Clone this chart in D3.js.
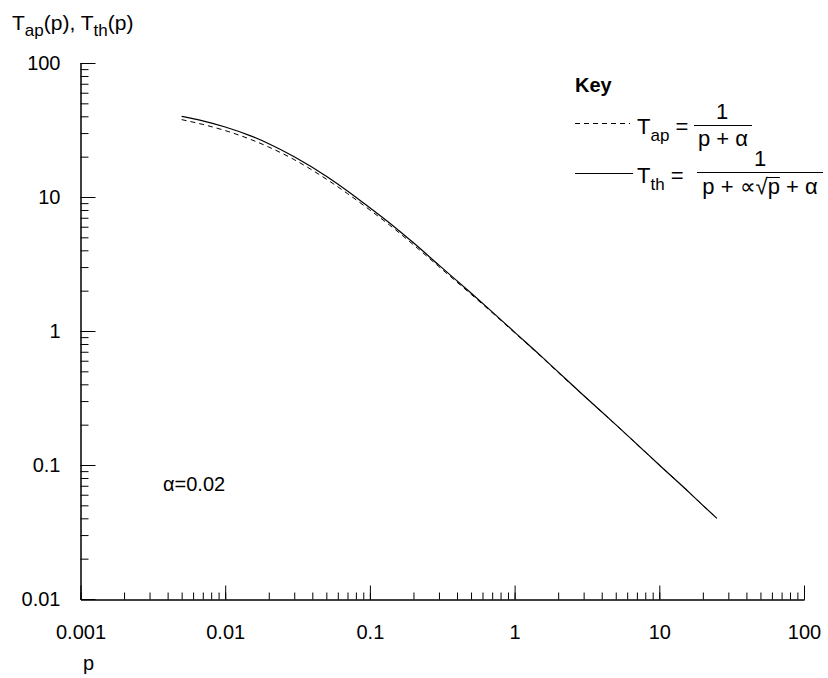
<!DOCTYPE html>
<html>
<head>
<meta charset="utf-8">
<style>
  body { margin: 0; background: #fff; }
  text { font-family: "Liberation Sans", Arial, sans-serif; fill: #000; }
  .axis path, .axis line { stroke: #000; stroke-width: 1; }
  .axis text { font-family: "Liberation Sans", Arial, sans-serif; font-size: 20px; fill: #000; }
</style>
<script src="https://d3js.org/d3.v7.min.js"></script>
</head>
<body>
<svg id="chart" width="828" height="678"></svg>
<script>
// values
var pValues   = [0.005, 0.007, 0.01, 0.015, 0.02, 0.03, 0.05, 0.07, 0.1, 0.15, 0.2, 0.3, 0.5, 0.7, 1, 1.5, 2, 3, 5, 7, 10, 15, 20, 25];
var tThValues = [40, 37, 33.3, 28.6, 25, 20, 14.3, 11.1, 8.3, 5.9, 4.55, 3.1, 1.92, 1.39, 0.98, 0.66, 0.495, 0.33, 0.2, 0.143, 0.1, 0.067, 0.05, 0.04];
var tApValues = [37.8, 34.8, 31.3, 26.9, 23.6, 19, 13.6, 10.6, 8.0, 5.7, 4.4, 3.02, 1.88, 1.37, 0.97, 0.655, 0.49, 0.33, 0.2, 0.143, 0.1, 0.067, 0.05, 0.04];

var xTicks = [0.001, 0.01, 0.1, 1, 10, 100];
var xTickLabels = ["0.001", "0.01", "0.1", "1", "10", "100"];
var yTicks = [0.01, 0.1, 1, 10, 100];
var yTickLabels = ["0.01", "0.1", "1", "10", "100"];

var svg = d3.select("#chart");

var x = d3.scaleLog().domain([0.001, 100]).range([80.5, 804]);
var y = d3.scaleLog().domain([0.01, 100]).range([599, 63]);

// minor ticks
svg.append("g").attr("class", "axis")
  .attr("transform", "translate(0,599.5)")
  .call(d3.axisBottom(x).tickValues(x.ticks()).tickSize(-7).tickSizeOuter(0).tickFormat(""));
svg.append("g").attr("class", "axis")
  .attr("transform", "translate(80.5,0)")
  .call(d3.axisLeft(y).tickValues(y.ticks()).tickSize(-8).tickSizeOuter(0).tickFormat(""));

// major ticks + labels
svg.append("g").attr("class", "axis")
  .attr("transform", "translate(0,599.5)")
  .call(d3.axisBottom(x).tickValues(xTicks).tickSize(-14).tickSizeOuter(0)
    .tickPadding(25).tickFormat(function(d, i) { return xTickLabels[i]; }));
svg.append("g").attr("class", "axis")
  .attr("transform", "translate(80.5,0)")
  .call(d3.axisLeft(y).tickValues(yTicks).tickSize(-15).tickSizeOuter(0)
    .tickPadding(20).tickFormat(function(d, i) { return yTickLabels[i]; }));

// axis titles
var title = svg.append("text").attr("x", 12).attr("y", 30).style("font-size", "21px");
title.append("tspan").text("T");
title.append("tspan").attr("dy", 6).style("font-size", "17px").text("ap");
title.append("tspan").attr("dy", -6).text("(p), T");
title.append("tspan").attr("dy", 6).style("font-size", "17px").text("th");
title.append("tspan").attr("dy", -6).text("(p)");

svg.append("text").attr("x", 83).attr("y", 670).style("font-size", "20px").text("p");

svg.append("text").attr("x", 163).attr("y", 491).style("font-size", "20px").text("α=0.02");

// curves
var line = d3.line()
  .x(function(d) { return x(d[0]); })
  .y(function(d) { return y(d[1]); })
  .curve(d3.curveMonotoneX);

svg.append("path")
  .datum(pValues.map(function(p, i) { return [p, tApValues[i]]; }))
  .attr("d", line)
  .attr("fill", "none").attr("stroke", "#000").attr("stroke-width", 1)
  .attr("stroke-dasharray", "5,4");

svg.append("path")
  .datum(pValues.map(function(p, i) { return [p, tThValues[i]]; }))
  .attr("d", line)
  .attr("fill", "none").attr("stroke", "#000").attr("stroke-width", 1.2);

// legend
var key = svg.append("g");
key.append("text").attr("x", 575).attr("y", 92).style("font-size", "20px").style("font-weight", "bold").text("Key");

key.append("line").attr("x1", 575).attr("x2", 630).attr("y1", 123.5).attr("y2", 123.5)
  .attr("stroke", "#000").attr("stroke-dasharray", "5,4");
key.append("line").attr("x1", 575).attr("x2", 633).attr("y1", 173.5).attr("y2", 173.5)
  .attr("stroke", "#000");

function lhs(yBase, sub, eq) {
  var t = key.append("text").attr("x", 637).attr("y", yBase).style("font-size", "22px");
  t.append("tspan").text("T");
  t.append("tspan").attr("dy", 7).style("font-size", "17px").text(sub);
  t.append("tspan").attr("dy", -7).text(eq);
}
lhs(134, "ap", " =");
lhs(183, "th", " =");

// fraction 1
key.append("line").attr("x1", 694).attr("x2", 752).attr("y1", 125.5).attr("y2", 125.5).attr("stroke", "#000");
key.append("text").attr("x", 722).attr("y", 119).attr("text-anchor", "middle").style("font-size", "22px").text("1");
key.append("text").attr("x", 723).attr("y", 146).attr("text-anchor", "middle").style("font-size", "22px").text("p + α");

// fraction 2
key.append("line").attr("x1", 697).attr("x2", 823).attr("y1", 172.5).attr("y2", 172.5).attr("stroke", "#000");
key.append("text").attr("x", 760).attr("y", 166).attr("text-anchor", "middle").style("font-size", "22px").text("1");
var den = key.append("text").attr("x", 760).attr("y", 194).attr("text-anchor", "middle").style("font-size", "22px").text("p + ∝√p + α");
var dn = den.node();
var sx = dn.getEndPositionOfChar(5).x - 1, ex = dn.getEndPositionOfChar(6).x;
key.append("line").attr("x1", sx).attr("x2", ex).attr("y1", 177.5).attr("y2", 177.5).attr("stroke", "#000");
</script>
</body>
</html>
